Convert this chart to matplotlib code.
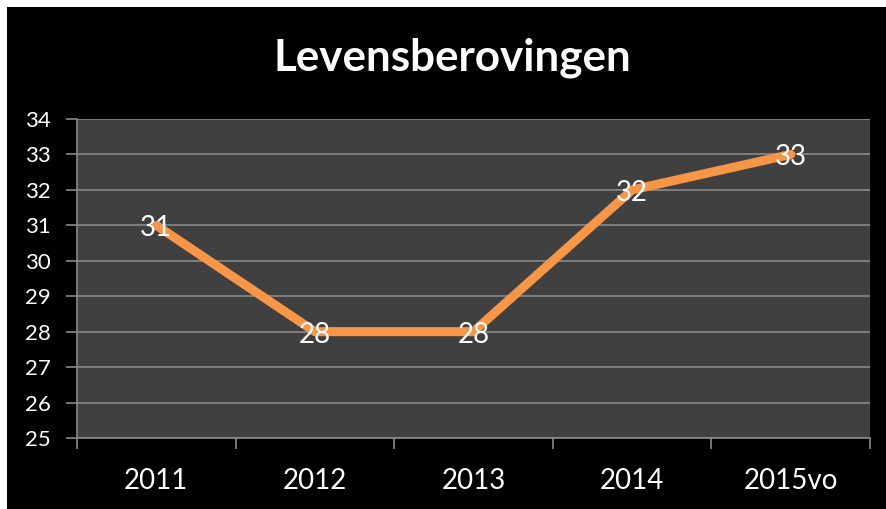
import matplotlib
matplotlib.use("Agg")
import matplotlib.pyplot as plt
from matplotlib.patches import Rectangle
from matplotlib.transforms import offset_copy

plt.rcParams['font.family'] = ['Lato', 'DejaVu Sans']

categories = ["2011", "2012", "2013", "2014", "2015vo"]
values = [31, 28, 28, 32, 33]
yticks = [25, 26, 27, 28, 29, 30, 31, 32, 33, 34]

W, H = 887, 509
fig = plt.figure(figsize=(W / 100, H / 100), dpi=100)
fig.patch.set_facecolor("white")
fig.patches.append(Rectangle((7 / W, 0), 1 - 7 / W, 1 - 7 / H, transform=fig.transFigure,
                             facecolor="black", edgecolor="none", zorder=-10))

left, right, top, bottom = 77, 870, 119, 438
ax = fig.add_axes([left / W, 1 - bottom / H, (right - left) / W, (bottom - top) / H])
ax.set_zorder(5)
ax.set_facecolor("#404040")

x = list(range(len(categories)))
ax.set_xlim(-0.5, len(categories) - 0.5)
ax.set_ylim(25, 34)
ax.set_yticks(yticks)
ax.set_yticklabels([str(v) for v in yticks], color="white", fontsize=16)
ax.grid(axis="y", color="#8a8a8a", linewidth=1.2)
ax.set_axisbelow(True)

ax.set_xticks(x)
ax.set_xticklabels(categories, color="white", fontsize=20)
ax.set_xticks([i - 0.5 for i in range(len(categories) + 1)], minor=True)
ax.tick_params(axis="x", which="major", length=0, pad=21.5)
ax.tick_params(axis="x", which="minor", length=8, color="#8a8a8a", width=1.2)
ax.tick_params(axis="y", length=8, color="#8a8a8a", width=1.2, pad=11)

for s in ["top", "right"]:
    ax.spines[s].set_visible(False)
for s in ["left", "bottom"]:
    ax.spines[s].set_color("#8a8a8a")
    ax.spines[s].set_linewidth(1.2)

ax.plot(x, values, color="#F79646", linewidth=6.5, solid_capstyle="round", solid_joinstyle="round", zorder=3)
lbl_tr = offset_copy(ax.transData, fig=fig, x=0, y=-3, units="dots")
for xi, v in zip(x, values):
    ax.text(xi, v, str(v), color="white", fontsize=20, ha="center", va="center", zorder=4,
            transform=lbl_tr)

fig.text(0.5 + 9 / W, 1 - 58 / H, "Levensberovingen", color="white", fontsize=31.7,
         fontweight="bold", ha="center", va="center", zorder=6)

fig.savefig("out.png", dpi=100, facecolor=fig.get_facecolor())
